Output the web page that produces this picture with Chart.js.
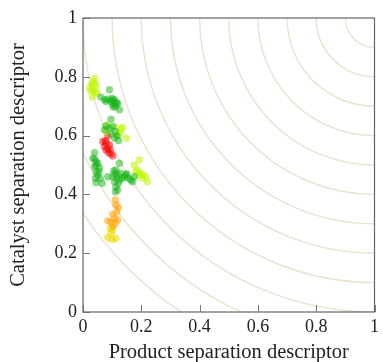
<!DOCTYPE html>
<html>
<head>
<meta charset="utf-8">
<script src="https://cdn.jsdelivr.net/npm/chart.js@4"></script>
<style>
  html, body { margin: 0; padding: 0; background: #fff; }
  #wrap { width: 383px; height: 362px; }
</style>
</head>
<body>
<div id="wrap"><canvas id="scatterChart" width="383" height="362"></canvas></div>
<script>
// ===== Data =====
const xTicks = [0, 0.2, 0.4, 0.6, 0.8, 1];
const yTicks = [0, 0.2, 0.4, 0.6, 0.8, 1];
const ringRadii = [0.1, 0.2, 0.3, 0.4, 0.5, 0.6, 0.7, 0.8, 0.9, 1.0, 1.1, 1.2];

const greenX = [0.091, 0.062, 0.074, 0.085, 0.096, 0.108, 0.116, 0.102, 0.111, 0.125, 0.079, 0.100, 0.119, 0.104, 0.100, 0.110,
  0.096, 0.079, 0.074, 0.091, 0.102, 0.111, 0.116, 0.108, 0.122, 0.096,
  0.040, 0.034, 0.045, 0.040, 0.051, 0.057, 0.045, 0.051, 0.043, 0.045, 0.066, 0.059, 0.054, 0.045, 0.040,
  0.125, 0.113, 0.102, 0.085, 0.119, 0.125, 0.108, 0.113, 0.111, 0.119, 0.130, 0.142, 0.147, 0.156, 0.164, 0.170, 0.176, 0.136, 0.122, 0.105, 0.110, 0.115, 0.150];
const greenY = [0.756, 0.731, 0.722, 0.724, 0.716, 0.722, 0.713, 0.705, 0.699, 0.688, 0.716, 0.727, 0.708, 0.697, 0.720, 0.710,
  0.656, 0.633, 0.620, 0.625, 0.631, 0.614, 0.599, 0.591, 0.583, 0.606,
  0.542, 0.523, 0.511, 0.494, 0.506, 0.489, 0.477, 0.466, 0.455, 0.440, 0.438, 0.455, 0.477, 0.500, 0.520,
  0.506, 0.483, 0.460, 0.460, 0.466, 0.449, 0.443, 0.426, 0.409, 0.415, 0.472, 0.460, 0.466, 0.455, 0.449, 0.443, 0.460, 0.455, 0.438, 0.480, 0.470, 0.455, 0.470];

const limeX = [0.040, 0.034, 0.028, 0.023, 0.036, 0.043, 0.032, 0.045, 0.042, 0.048, 0.028,
  0.079, 0.113, 0.130, 0.136, 0.127, 0.149, 0.119, 0.082,
  0.193, 0.176, 0.187, 0.198, 0.206, 0.204, 0.215, 0.221, 0.181, 0.190];
const limeY = [0.795, 0.784, 0.773, 0.761, 0.756, 0.747, 0.731, 0.767, 0.778, 0.744, 0.750,
  0.614, 0.628, 0.622, 0.628, 0.608, 0.591, 0.602, 0.636,
  0.517, 0.500, 0.483, 0.472, 0.466, 0.455, 0.460, 0.443, 0.477, 0.466];

const redX = [0.085, 0.068, 0.079, 0.074, 0.085, 0.091, 0.079, 0.088, 0.096, 0.102, 0.093, 0.077];
const redY = [0.599, 0.580, 0.574, 0.563, 0.557, 0.568, 0.551, 0.542, 0.538, 0.531, 0.551, 0.583];

const orangeX = [0.111, 0.113, 0.122, 0.116, 0.102, 0.108, 0.119, 0.096, 0.085, 0.111, 0.102];
const orangeY = [0.381, 0.364, 0.356, 0.341, 0.333, 0.318, 0.313, 0.307, 0.310, 0.301, 0.292];

const yellowX = [0.102, 0.096, 0.085, 0.100, 0.113, 0.093];
const yellowY = [0.278, 0.267, 0.253, 0.247, 0.250, 0.284];

function zipPoints(xs, ys) {
  return xs.map((x, i) => ({ x: x, y: ys[i] }));
}

// ===== Rings, frame and inward ticks =====
const frameAndRings = {
  id: 'frameAndRings',
  beforeDatasetsDraw(chart) {
    const { ctx, chartArea: a, scales: { x, y } } = chart;
    ctx.save();
    ctx.beginPath();
    ctx.rect(a.left, a.top, a.right - a.left, a.bottom - a.top);
    ctx.clip();
    const cx = x.getPixelForValue(1);
    const cy = y.getPixelForValue(1);
    ctx.strokeStyle = '#e8e3cb';
    ctx.lineWidth = 1.4;
    ringRadii.forEach(r => {
      const rx = x.getPixelForValue(r) - x.getPixelForValue(0);
      const ry = y.getPixelForValue(0) - y.getPixelForValue(r);
      ctx.beginPath();
      ctx.ellipse(cx, cy, rx, ry, 0, 0, Math.PI * 2);
      ctx.stroke();
    });
    ctx.restore();
  },
  afterDatasetsDraw(chart) {
    const { ctx, chartArea: a, scales: { x, y } } = chart;
    ctx.save();
    ctx.strokeStyle = '#7a7a7a';
    ctx.lineWidth = 1;
    xTicks.forEach(v => {
      const px = Math.round(x.getPixelForValue(v)) + 0.5;
      ctx.beginPath();
      ctx.moveTo(px, a.bottom);
      ctx.lineTo(px, a.bottom - 7);
      ctx.stroke();
    });
    yTicks.forEach(v => {
      const py = Math.round(y.getPixelForValue(v)) + 0.5;
      ctx.beginPath();
      ctx.moveTo(a.left, py);
      ctx.lineTo(a.left + 7, py);
      ctx.stroke();
    });
    ctx.strokeStyle = '#666';
    ctx.lineWidth = 1.2;
    ctx.strokeRect(a.left, a.top, a.right - a.left, a.bottom - a.top);
    ctx.restore();
  }
};

const serif = '"Liberation Serif", "DejaVu Serif", serif';
const fmt = v => (v === 0 || v === 1) ? String(v) : v.toFixed(1);

const ctx = document.getElementById('scatterChart').getContext('2d');
const scatterChart = new Chart(ctx, {
  type: 'scatter',
  data: {
    datasets: [
      { data: zipPoints(greenX, greenY), backgroundColor: 'rgba(20,180,20,0.5)' },
      { data: zipPoints(limeX, limeY), backgroundColor: 'rgba(190,245,0,0.55)' },
      { data: zipPoints(redX, redY), backgroundColor: 'rgba(250,0,0,0.5)' },
      { data: zipPoints(orangeX, orangeY), backgroundColor: 'rgba(255,160,0,0.55)' },
      { data: zipPoints(yellowX, yellowY), backgroundColor: 'rgba(235,220,0,0.6)' }
    ]
  },
  options: {
    responsive: false,
    animation: false,
    elements: { point: { radius: 3.7, borderWidth: 0, hoverRadius: 3.7 } },
    layout: { padding: { top: 18, right: 5, left: 6, bottom: 0 } },
    plugins: { legend: { display: false }, tooltip: { enabled: false } },
    scales: {
      x: {
        type: 'linear', min: 0, max: 1,
        grid: { display: false, drawTicks: false },
        border: { display: false },
        afterBuildTicks: s => { s.ticks = xTicks.map(v => ({ value: v })); },
        afterFit: s => { s.height = 50; },
        ticks: { color: '#222', padding: 4, font: { family: serif, size: 18 }, callback: fmt, maxRotation: 0 },
        title: { display: true, text: 'Product separation descriptor', color: '#222', padding: { top: 5, bottom: -3 }, font: { family: serif, size: 20.5 } }
      },
      y: {
        type: 'linear', min: 0, max: 1,
        grid: { display: false, drawTicks: false },
        border: { display: false },
        afterBuildTicks: s => { s.ticks = yTicks.map(v => ({ value: v })); },
        afterFit: s => { s.width = 77; },
        ticks: { color: '#222', padding: 6, font: { family: serif, size: 18 }, callback: fmt },
        title: { display: true, text: 'Catalyst separation descriptor', color: '#222', padding: { top: 0, bottom: 4 }, font: { family: serif, size: 20.5 } }
      }
    }
  },
  plugins: [frameAndRings]
});
</script>
</body>
</html>
